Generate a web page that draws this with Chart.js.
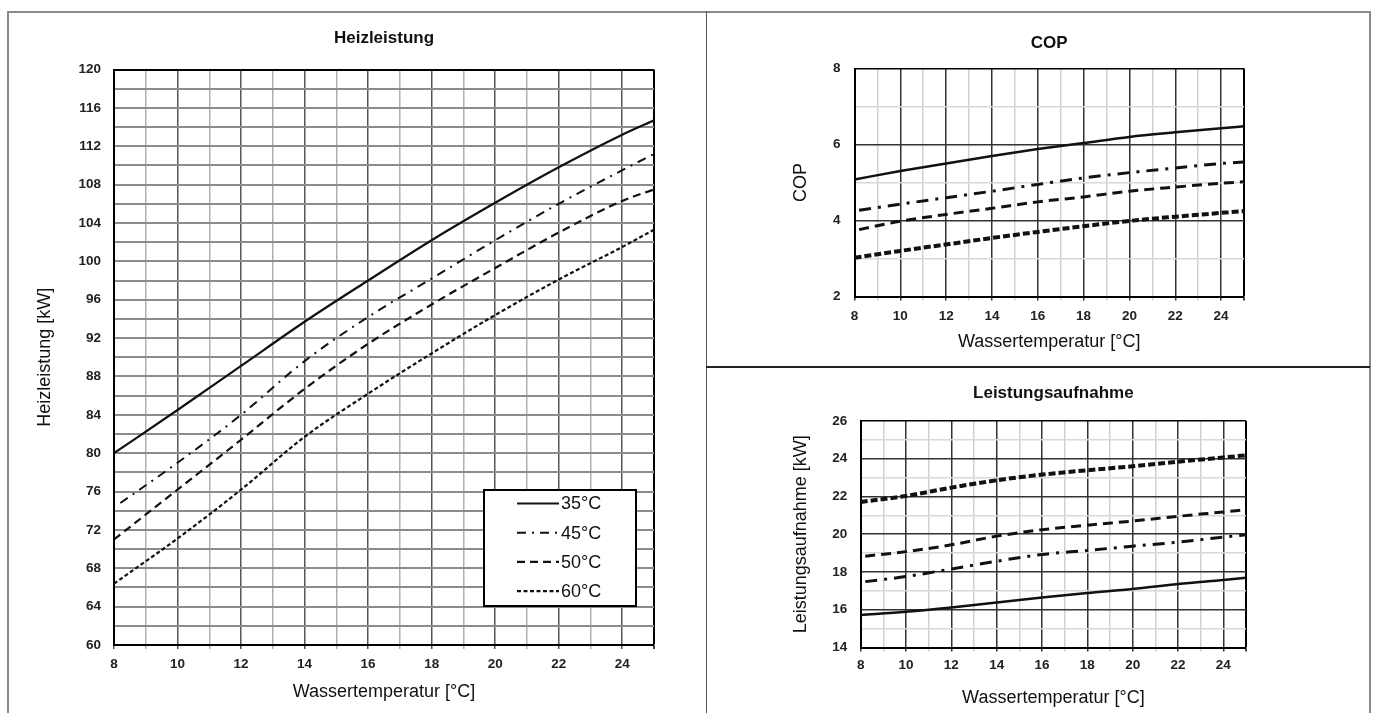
<!DOCTYPE html>
<html lang="de">
<head>
<meta charset="utf-8">
<title>Heizleistung / COP / Leistungsaufnahme</title>
<script src="https://cdn.jsdelivr.net/npm/chart.js@4.4.1/dist/chart.umd.min.js"></script>
<style>
  html, body { margin: 0; padding: 0; background: #fff; }
  body { width: 1373px; height: 713px; position: relative; overflow: hidden; }
  .rule { position: absolute; }
  canvas { position: absolute; }
</style>
</head>
<body>
<div class="rule" style="left:7px;top:11px;width:1364px;height:1.5px;background:#8a8a8a"></div>
<div class="rule" style="left:7px;top:11px;width:1.5px;height:702px;background:#8a8a8a"></div>
<div class="rule" style="left:1369px;top:11px;width:1.5px;height:702px;background:#8a8a8a"></div>
<div class="rule" style="left:705.5px;top:11px;width:1.5px;height:702px;background:#555"></div>
<div class="rule" style="left:706px;top:366px;width:664px;height:1.5px;background:#222"></div>

<canvas id="heiz" width="698" height="701" style="left:8px;top:12px"></canvas>
<canvas id="cop" width="662" height="354" style="left:707px;top:13px"></canvas>
<canvas id="power" width="662" height="345" style="left:707px;top:368px"></canvas>

<script>
// water temperature (x) for every series; some curves start a bit right of 8
const waterTemp = [8, 10, 12, 14, 16, 18, 20, 22, 24, 25];
const waterTempLate = [8.2, 10, 12, 14, 16, 18, 20, 22, 24, 25];
const seriesLabels = ['35°C', '45°C', '50°C', '60°C'];

// Heizleistung [kW]
const heiz35 = [80.0, 84.5, 89.1, 93.7, 98.0, 102.2, 106.1, 109.8, 113.2, 114.7];
const heiz45 = [74.8, 79.0, 84.0, 89.6, 94.2, 98.2, 102.2, 106.0, 109.5, 111.2];
const heiz50 = [71.0, 76.2, 81.4, 86.7, 91.4, 95.5, 99.3, 103.0, 106.3, 107.5];
const heiz60 = [66.4, 71.1, 76.2, 81.7, 86.2, 90.4, 94.4, 98.1, 101.5, 103.3];

// COP
const cop35 = [5.08, 5.30, 5.50, 5.70, 5.88, 6.04, 6.20, 6.32, 6.43, 6.48];
const cop45 = [4.27, 4.43, 4.60, 4.77, 4.95, 5.12, 5.26, 5.38, 5.50, 5.54];
const cop50 = [3.76, 3.98, 4.16, 4.32, 4.49, 4.62, 4.77, 4.88, 4.98, 5.02];
const cop60 = [3.02, 3.20, 3.37, 3.54, 3.70, 3.85, 3.99, 4.10, 4.20, 4.25];

// Leistungsaufnahme [kW]
const power35 = [15.72, 15.89, 16.12, 16.39, 16.65, 16.89, 17.10, 17.37, 17.58, 17.69];
const power45 = [17.49, 17.76, 18.16, 18.57, 18.93, 19.14, 19.37, 19.58, 19.85, 19.97];
const power50 = [18.84, 19.08, 19.44, 19.90, 20.24, 20.48, 20.70, 20.95, 21.18, 21.30];
const power60 = [21.71, 22.03, 22.47, 22.86, 23.16, 23.39, 23.60, 23.84, 24.07, 24.18];

const tickFont = { family: '"Liberation Sans", Arial, sans-serif', size: 13.5, weight: 'bold' };
const axisFont = { family: '"Liberation Sans", Arial, sans-serif', size: 18 };
const headFont = { family: '"Liberation Sans", Arial, sans-serif', size: 17, weight: 'bold' };

function lines(xLists, yLists, dashes, widths) {
    return yLists.map(function(ys, i) {
        return {
            label: seriesLabels[i],
            data: ys.map(function(y, j) { return { x: xLists[i][j], y: y }; }),
            borderColor: '#111',
            borderWidth: widths[i],
            borderDash: dashes[i],
            pointRadius: 0,
            fill: false,
            cubicInterpolationMode: 'monotone'
        };
    });
}

// even/odd grid shading, outer edge black
function shade(max, step, even, odd) {
    return function(ctx) {
        const v = ctx.tick ? ctx.tick.value : null;
        if (v === max) return '#000';
        return Math.round(v / step) % 2 === 0 ? even : odd;
    };
}

// legend box drawn inside the plot (only the big chart has one)
const boxLegend = {
    id: 'boxLegend',
    afterDatasetsDraw(chart) {
        const ctx = chart.ctx;
        const area = chart.chartArea;
        const w = 152, h = 116;
        const left = area.right - 18 - w;
        const top = area.bottom - 39 - h;
        ctx.save();
        ctx.fillStyle = '#fff';
        ctx.fillRect(left, top, w, h);
        ctx.strokeStyle = '#000';
        ctx.lineWidth = 2;
        ctx.strokeRect(left, top, w, h);
        ctx.font = '18px "Liberation Sans", Arial, sans-serif';
        ctx.textBaseline = 'middle';
        ctx.fillStyle = '#111';
        chart.data.datasets.forEach(function(ds, i) {
            const y = top + 13.5 + i * 29.2;
            ctx.setLineDash(ds.borderDash || []);
            ctx.lineWidth = ds.borderWidth;
            ctx.strokeStyle = '#111';
            ctx.beginPath();
            ctx.moveTo(left + 33, y);
            ctx.lineTo(left + 75, y);
            ctx.stroke();
            ctx.setLineDash([]);
            ctx.fillText(ds.label, left + 77, y + 1);
        });
        ctx.restore();
    }
};

function makeChart(id, s) {
    const xGrid = shade(25, 1, s.xEven, s.xOdd);
    return new Chart(document.getElementById(id), {
        type: 'line',
        data: { datasets: s.datasets },
        options: {
            responsive: false,
            animation: false,
            events: [],
            layout: { padding: { left: 0, right: s.padRight, top: 0, bottom: 0 } },
            plugins: {
                legend: { display: false },
                tooltip: { enabled: false },
                title: {
                    display: true,
                    text: s.title,
                    fullSize: false,
                    color: '#111',
                    font: headFont,
                    padding: { top: s.titleTop, bottom: s.titleBottom }
                }
            },
            scales: {
                x: {
                    type: 'linear',
                    min: 8,
                    max: 25,
                    afterFit: function(scale) { scale.height = s.xHeight; },
                    ticks: {
                        stepSize: 1,
                        autoSkip: false,
                        maxRotation: 0,
                        padding: s.xTickPad,
                        color: '#222',
                        font: tickFont,
                        callback: function(v) { return (v % 2 === 0 && v < 25) ? v : ''; }
                    },
                    grid: {
                        color: xGrid,
                        lineWidth: function(ctx) { return ctx.tick && ctx.tick.value === 25 ? 2 : 1.5; },
                        drawTicks: true,
                        tickLength: 4,
                        tickColor: xGrid,
                        tickWidth: 1.5
                    },
                    border: { color: '#000', width: 2 },
                    title: {
                        display: true,
                        text: 'Wassertemperatur [°C]',
                        color: '#111',
                        font: axisFont,
                        padding: { top: 0, bottom: s.xTitlePad }
                    }
                },
                y: {
                    type: 'linear',
                    min: s.yMin,
                    max: s.yMax,
                    afterFit: function(scale) { scale.width = s.yWidth; },
                    ticks: {
                        stepSize: s.yStep,
                        autoSkip: false,
                        padding: s.yTickPad,
                        color: '#222',
                        font: tickFont,
                        callback: function(v) { return v % s.yLabelEvery === 0 ? v : ''; }
                    },
                    grid: {
                        color: shade(s.yMax, s.yStep, s.yEven, s.yOdd),
                        lineWidth: s.yLineWidth,
                        drawTicks: false
                    },
                    border: { color: '#000', width: 2 },
                    title: {
                        display: true,
                        text: s.yTitle,
                        color: '#111',
                        font: axisFont,
                        padding: { top: s.yTitlePad, bottom: 0 }
                    }
                }
            }
        },
        plugins: s.plugins || []
    });
}

const thinDash = [[], [9, 6, 2, 6], [8, 5], [4, 2.5]];
const thinWidth = [2.2, 2, 2.2, 2.2];
const boldDash = [[], [12, 7, 3, 7], [10, 6], [7, 3]];
const boldWidth = [2.5, 3, 3, 4];

makeChart('heiz', {
    title: 'Heizleistung', titleTop: 16.3, titleBottom: 20.8,
    yTitle: 'Heizleistung [kW]', yMin: 60, yMax: 120, yStep: 2, yLabelEvery: 4,
    yWidth: 106, yTitlePad: 26.2, yTickPad: 13,
    yEven: '#8c8c8c', yOdd: '#8c8c8c', yLineWidth: 2,
    xEven: '#555', xOdd: '#b0b0b0',
    xHeight: 68, xTickPad: 7.3, xTitlePad: 10.5, padRight: 52,
    datasets: lines([waterTemp, waterTempLate, waterTemp, waterTemp],
                    [heiz35, heiz45, heiz50, heiz60], thinDash, thinWidth),
    plugins: [boxLegend]
});

makeChart('cop', {
    title: 'COP', titleTop: 19.8, titleBottom: 15.3,
    yTitle: 'COP', yMin: 2, yMax: 8, yStep: 1, yLabelEvery: 2,
    yWidth: 147.5, yTitlePad: 83.2, yTickPad: 14,
    yEven: '#333', yOdd: '#d8d8d8', yLineWidth: 1.6,
    xEven: '#333', xOdd: '#d0d0d0',
    xHeight: 70.5, xTickPad: 7.8, xTitlePad: 14.5, padRight: 125,
    datasets: lines([waterTemp, waterTempLate, waterTempLate, waterTemp],
                    [cop35, cop45, cop50, cop60], boldDash, boldWidth)
});

makeChart('power', {
    title: 'Leistungsaufnahme', titleTop: 14.8, titleBottom: 17.8,
    yTitle: 'Leistungsaufnahme [kW]', yMin: 14, yMax: 26, yStep: 1, yLabelEvery: 2,
    yWidth: 153.7, yTitlePad: 83.2, yTickPad: 13.4,
    yEven: '#333', yOdd: '#d8d8d8', yLineWidth: 1.6,
    xEven: '#333', xOdd: '#d0d0d0',
    xHeight: 65.5, xTickPad: 6.1, xTitlePad: 4.2, padRight: 123,
    datasets: lines([waterTemp, waterTempLate, waterTempLate, waterTemp],
                    [power35, power45, power50, power60], boldDash, boldWidth)
});
</script>
</body>
</html>
